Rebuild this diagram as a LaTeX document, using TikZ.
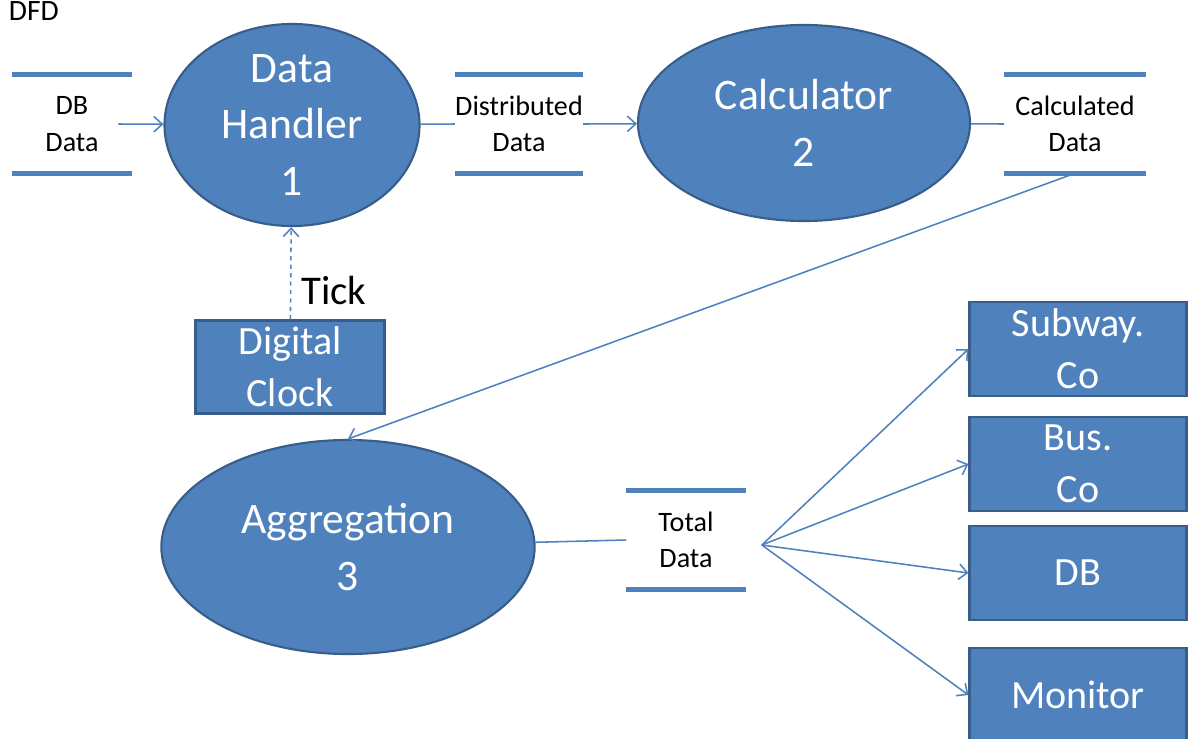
\documentclass[tikz,border=0pt]{standalone}
\usepackage{fontspec}
\setmainfont{Carlito}
\usetikzlibrary{arrows.meta,shapes.geometric,calc}
\definecolor{dfdblue}{HTML}{4F81BD}
\definecolor{dfdedge}{HTML}{385D8A}

\begin{document}
\begin{tikzpicture}[x=0.025cm, y=-0.025cm,
	proc/.style={ellipse, draw=dfdedge, line width=1.5pt, fill=dfdblue, inner sep=0pt},
	ptext/.style={text=white, align=center, font=\fontsize{31}{40.5}\selectfont},
	ent/.style={rectangle, draw=dfdedge, line width=1.5pt, fill=dfdblue, text=white, align=center,
		minimum width=5.425cm, minimum height=2.35cm, inner sep=0pt, font=\fontsize{28.5}{37}\selectfont},
	store/.style={align=center, minimum width=3cm, minimum height=2.45cm, inner sep=0pt, font=\fontsize{20}{26}\selectfont},
	flow/.style={dfdblue, line width=1.1pt},
	arr/.style={flow, -{Straight Barb[length=6pt, width=11pt]}}]
	\useasboundingbox (0,0) rectangle (1196,738);
	\node[anchor=base west, font=\fontsize{21}{26}\selectfont] (title) at (4,20) {DFD};

	% processes
	\node[proc, minimum width=6.375cm, minimum height=5.05cm, label={[ptext]center:{Data\\Handler\\1}}] (dh) at (292,125) {};
	\node[proc, minimum width=8.3cm, minimum height=4.9cm, label={[ptext]center:{Calculator\\2}}] (calcp) at (804,123) {};
	\node[proc, minimum width=9.33cm, minimum height=5.35cm, label={[ptext]center:{Aggregation\\3}}] (agg) at (348,547) {};

	% data stores
	\node[store] (dbd) at (72,124) {DB\\Data};
	\node[store, minimum width=2.95cm] (dist) at (519,124) {Distributed\\Data};
	\node[store, minimum width=3.525cm] (cdata) at (1075,124) {Calculated\\Data};
	\node[store, minimum width=2.975cm] (tot) at (686,540) {Total\\Data};
	\foreach \s in {dbd,dist,cdata,tot} {
		\draw[gray!30, line width=3.5pt, shift={(1,4)}] (\s.north west) -- (\s.north east) (\s.south west) -- (\s.south east);
		\draw[dfdblue, line width=3.5pt] (\s.north west) -- (\s.north east) (\s.south west) -- (\s.south east);
	}

	% entities
	\node[ent, minimum width=4.725cm, minimum height=2.325cm] (clk) at (290,367) {Digital\\Clock};
	\foreach \n/\y/\lab in {sub/349/{Subway.\\Co}, bus/464/{Bus.\\Co}, db/573/DB, mon/695/Monitor}
		\node[ent] (\n) at (1078,\y) {\lab};

	% flows
	\draw[arr] ($(dbd.east)+(-14,0)$) -- (dh);
	\draw[flow] (dh) -- (dist.west);
	\draw[arr] (dist.east) -- (calcp);
	\draw[flow] (calcp) -- (cdata.west);
	\draw[arr] (cdata.south) -- (agg.north);
	\draw[arr, dashed] (clk) -- (dh);
	\node[font=\fontsize{29}{34}\selectfont] (tick) at (334,290) {Tick};
	\draw[flow] (agg) -- (tot.west);
	\coordinate (fan) at ($(tot.east)+(16,5)$);
	\foreach \n in {sub,bus,db,mon}
		\draw[arr] (fan) -- (\n.west);
\end{tikzpicture}
\end{document}
